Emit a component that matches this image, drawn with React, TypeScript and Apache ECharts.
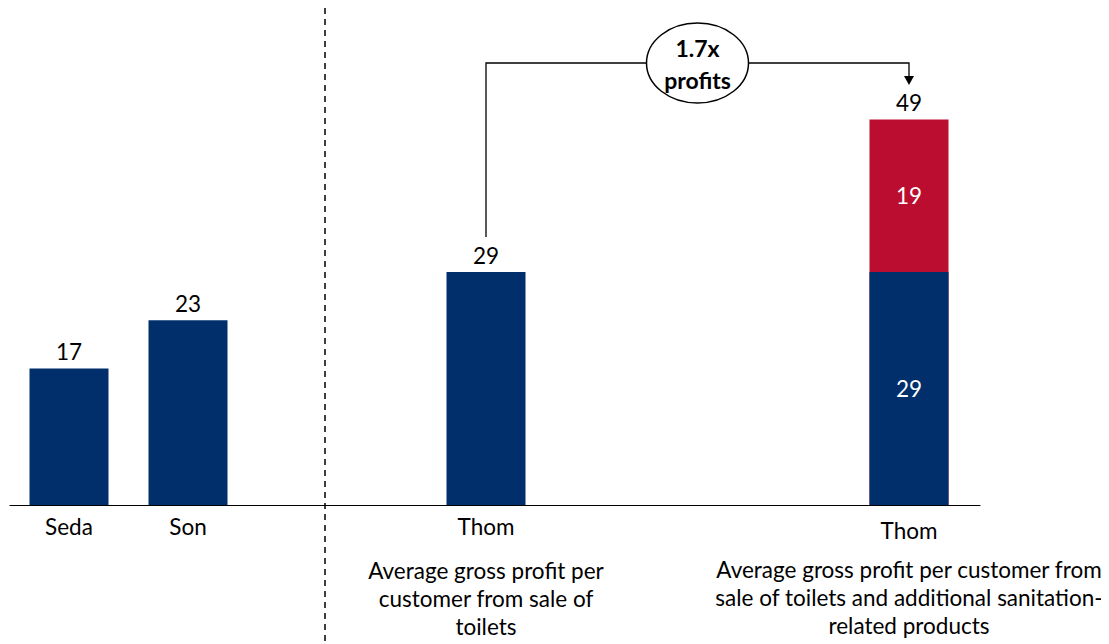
import React, { useEffect, useRef } from "react";
import * as echarts from "echarts";

// ---- data ----
const categories = ["Seda", "Son", "Thom", "Thom"];
const descriptions = [
  "",
  "",
  "Average gross profit per\ncustomer from sale of\ntoilets",
  "Average gross profit per customer from\nsale of toilets and additional sanitation-\nrelated products",
];
// slot position of each bar along the horizontal axis
const slots = [5.9, 17.8, 47.6, 89.9];
const toiletProfit = [17, 23, 29, 29];
const additionalProfit: (number | null)[] = [null, null, null, 19];
const totalLabels = [49];
const multiplierText = "1.7x\nprofits";
const dividerSlot = 31.5;

const NAVY = "#002f6c";
const RED = "#bb0d30";
const FONT = "Lato, 'Open Sans', sans-serif";
const FS = 22.5;

export default function App() {
  const ref = useRef<HTMLDivElement>(null);

  useEffect(() => {
    if (!ref.current) return;
    const chart = echarts.init(ref.current, undefined, { renderer: "svg" });

    const blueData = toiletProfit.map((v, i) => {
      const stacked = additionalProfit[i] != null;
      return {
        value: [slots[i], v],
        label: stacked
          ? { position: "inside", color: "#ffffff" }
          : { position: "top", color: "#000000", distance: 5 },
      };
    });
    // red segment drawn as the cumulative bar behind the navy one
    const redData: any[] = [];
    additionalProfit.forEach((v, i) => {
      if (v == null) return;
      const total = toiletProfit[i] + v;
      const centreFromTop = ((v / 2) / total) * 100;
      redData.push({
        value: [slots[i], total],
        label: {
          formatter: String(v),
          position: ["50%", centreFromTop + "%"],
          align: "center",
          verticalAlign: "middle",
        },
      });
    });
    const stackIdx = additionalProfit.findIndex((v) => v != null);
    const totalData = [
      {
        value: [slots[stackIdx], toiletProfit[stackIdx] + (additionalProfit[stackIdx] as number)],
        label: { formatter: String(totalLabels[0]) },
      },
    ];

    const nameData = categories.map((c, i) => ({
      value: [slots[i], 0],
      label: { formatter: c, distance: i === 3 ? 14 : 10 },
    }));
    const descData = descriptions.map((d, i) => ({
      value: [slots[i], 0],
      label: { formatter: d || " ", distance: i === 3 ? 50 : 51 },
    }));

    const scatterBase = {
      type: "scatter",
      symbolSize: 0,
      silent: true,
      itemStyle: { opacity: 1 },
    };

    chart.setOption({
      animation: false,
      textStyle: { fontFamily: FONT },
      grid: { left: 10, right: 129, top: 23, bottom: 139 },
      xAxis: {
        type: "value",
        min: 0,
        max: 97,
        axisLine: { show: true, onZero: true, lineStyle: { color: "#000", width: 1.2 } },
        axisTick: { show: false },
        axisLabel: { show: false },
        splitLine: { show: false },
      },
      yAxis: {
        type: "value",
        min: 0,
        max: 60,
        show: false,
        splitLine: { show: false },
      },
      series: [
        {
          type: "bar",
          barWidth: 79,
          barGap: "-100%",
          itemStyle: { color: RED },
          label: { show: true, color: "#fff", fontSize: FS, fontFamily: FONT },
          data: redData,
        },
        {
          type: "bar",
          barWidth: 79,
          barGap: "-100%",
          itemStyle: { color: NAVY },
          label: { show: true, fontSize: FS, fontFamily: FONT },
          data: blueData,
        },
        {
          ...scatterBase,
          label: { show: true, position: "top", distance: 5, color: "#000", fontSize: FS, fontFamily: FONT },
          data: totalData,
        },
        {
          ...scatterBase,
          label: { show: true, position: "bottom", color: "#000", fontSize: FS, fontFamily: FONT },
          data: nameData,
        },
        {
          ...scatterBase,
          label: {
            show: true,
            position: "bottom",
            color: "#000",
            fontSize: FS,
            lineHeight: 28,
            align: "center",
            fontFamily: FONT,
          },
          data: descData,
        },
      ],
    });

    // annotation graphics, positioned from the axes
    const p1 = chart.convertToPixel({ seriesIndex: 1 }, [slots[2], toiletProfit[2]]) as number[];
    const p2 = chart.convertToPixel({ seriesIndex: 1 }, [slots[3], 0]) as number[];
    const div = chart.convertToPixel({ seriesIndex: 1 }, [dividerSlot, 0]) as number[];
    const x1 = p1[0];
    const x2 = p2[0];
    const yTop = 63;
    const yLeftBottom = p1[1] - 35;
    const cx = (x1 + x2) / 2;

    chart.setOption({
      graphic: [
        {
          type: "line",
          shape: { x1: div[0], y1: 8, x2: div[0], y2: 644 },
          style: { stroke: "#000", lineWidth: 1.5, lineDash: [6, 5] },
        },
        {
          type: "polyline",
          shape: { points: [[x1, yLeftBottom], [x1, yTop], [x2, yTop], [x2, 78]] },
          style: { stroke: "#000", lineWidth: 1.3, fill: null },
        },
        {
          type: "polygon",
          shape: { points: [[x2 - 5, 76], [x2 + 5, 76], [x2, 85]] },
          style: { fill: "#000" },
        },
        {
          type: "ellipse",
          shape: { cx: cx, cy: yTop, rx: 51, ry: 40 },
          style: { fill: "#fff", stroke: "#000", lineWidth: 1.5 },
        },
        {
          type: "text",
          x: cx,
          y: yTop + 1,
          style: {
            text: multiplierText,
            fill: "#000",
            fontWeight: "bold",
            fontSize: 23,
            fontFamily: FONT,
            lineHeight: 32,
            align: "center",
            verticalAlign: "middle",
          },
        },
      ],
    });

    return () => chart.dispose();
  }, []);

  return <div ref={ref} style={{ width: 1109, height: 644, marginLeft: -8, marginTop: -8 }} />;
}
